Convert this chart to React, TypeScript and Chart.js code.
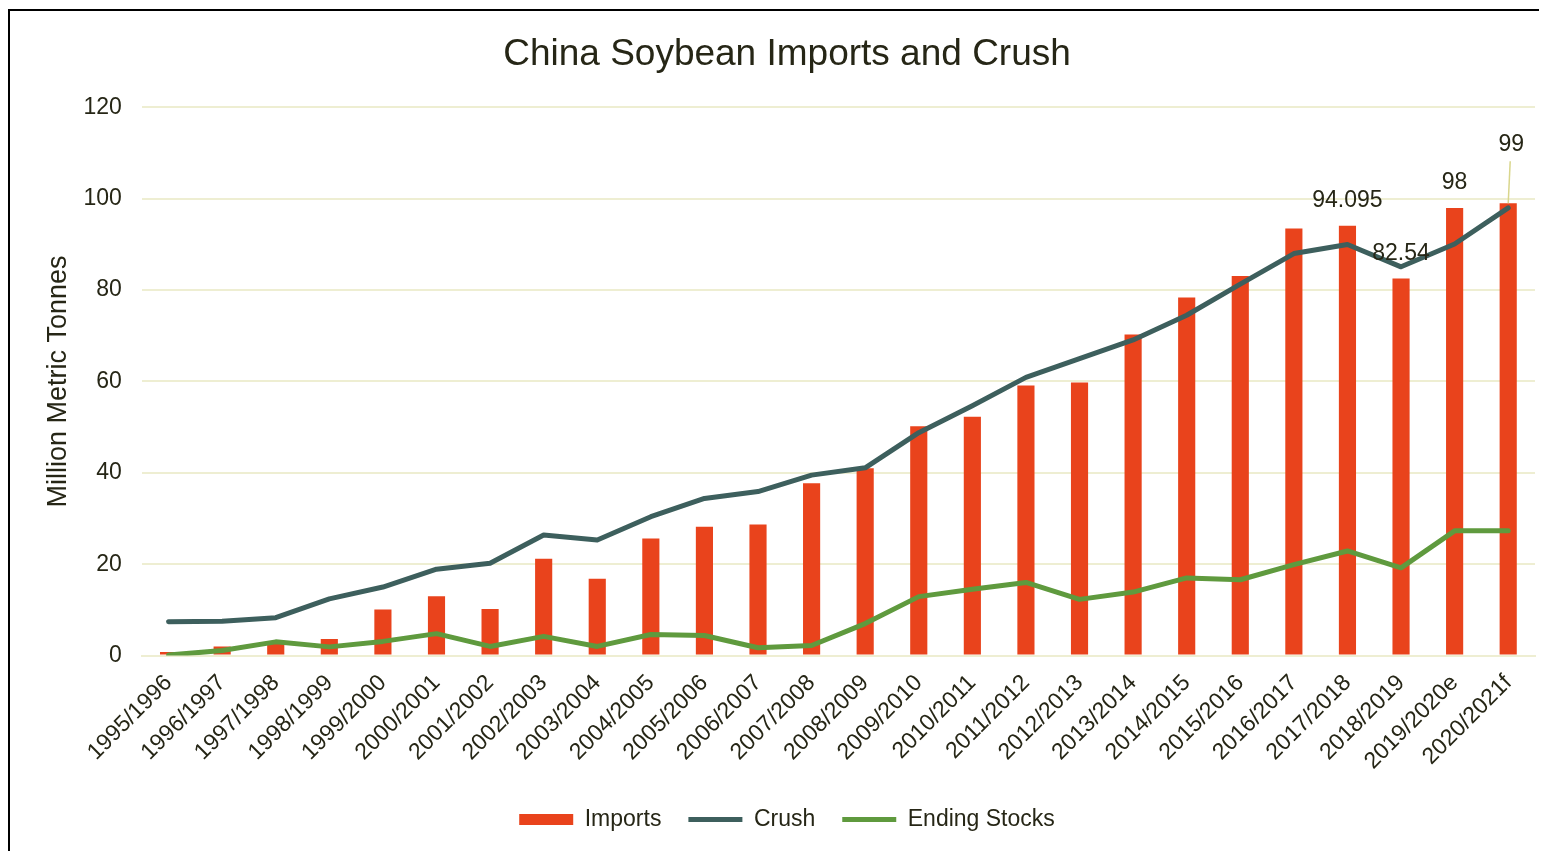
import { useEffect, useRef } from "react";
import { Chart, registerables } from "chart.js";

Chart.register(...registerables);

// Marketing years (July/June seasons); "e" = estimate, "f" = forecast
const seasons = [
  "1995/1996", "1996/1997", "1997/1998", "1998/1999", "1999/2000", "2000/2001",
  "2001/2002", "2002/2003", "2003/2004", "2004/2005", "2005/2006", "2006/2007",
  "2007/2008", "2008/2009", "2009/2010", "2010/2011", "2011/2012", "2012/2013",
  "2013/2014", "2014/2015", "2015/2016", "2016/2017", "2017/2018", "2018/2019",
  "2019/2020e", "2020/2021f",
];

// Million metric tonnes
const imports = [
  0.8, 2.0, 2.9, 3.6, 10.1, 13.0, 10.2, 21.2, 16.8, 25.6, 28.2, 28.7,
  37.7, 41.0, 50.2, 52.3, 59.1, 59.8, 70.3, 78.4, 83.1, 93.5, 94.095, 82.54,
  98, 99,
];

const crush = [
  7.4, 7.5, 8.3, 12.4, 15.0, 18.9, 20.2, 26.4, 25.3, 30.4, 34.4, 35.9,
  39.5, 41.1, 48.8, 54.7, 60.9, 65.0, 69.1, 74.5, 81.3, 88.0, 90.0, 85.1,
  90.1, 98.0,
];

const endingStocks = [
  0.1, 1.1, 3.0, 1.9, 3.1, 4.8, 2.0, 4.2, 2.0, 4.6, 4.4, 1.7,
  2.2, 7.0, 12.9, 14.5, 16.0, 12.3, 13.9, 17.0, 16.6, 19.9, 22.9, 19.2,
  27.3, 27.3,
];

// Seasons whose import volume is printed above the bar
const labelledSeasons = ["2017/2018", "2018/2019", "2019/2020e", "2020/2021f"];

const yAxisMin = 0;
const yAxisMax = 120;
const yAxisStep = 20;

const TEXT = "#262616";
const GRID = "#EEEED2";
const FONT = "'Liberation Sans', Arial, Helvetica, sans-serif";

// Prints import values above selected bars; the last one is lifted with a leader line
const barValueLabels = {
  id: "barValueLabels",
  afterDatasetsDraw(chart: any) {
    const meta = chart.getDatasetMeta(0);
    const ctx = chart.ctx;
    ctx.save();
    ctx.font = `23px ${FONT}`;
    ctx.fillStyle = TEXT;
    ctx.textAlign = "center";
    ctx.textBaseline = "middle";
    labelledSeasons.forEach((season) => {
      const i = seasons.indexOf(season);
      const bar = meta.data[i];
      if (!bar) return;
      const value = imports[i];
      const lifted = i === seasons.length - 1;
      if (lifted) {
        ctx.strokeStyle = "#D9D68C";
        ctx.lineWidth = 1.5;
        ctx.beginPath();
        ctx.moveTo(bar.x + 2, bar.y - 42);
        ctx.lineTo(bar.x, bar.y);
        ctx.stroke();
        ctx.fillText(String(value), bar.x + 3, bar.y - 59);
      } else {
        ctx.fillText(String(value), bar.x, bar.y - 25);
      }
    });
    ctx.restore();
  },
};

export default function App() {
  const canvasRef = useRef<HTMLCanvasElement | null>(null);

  useEffect(() => {
    if (!canvasRef.current) return;
    Chart.defaults.font.family = FONT;
    Chart.defaults.color = TEXT;

    const chart = new Chart(canvasRef.current, {
      type: "bar",
      data: {
        labels: seasons,
        datasets: [
          {
            type: "bar",
            label: "Imports",
            data: imports,
            backgroundColor: "#E9431C",
            borderWidth: 0,
            barPercentage: 0.32,
            categoryPercentage: 1,
            pointStyle: "rect",
            order: 3,
          },
          {
            type: "line",
            label: "Crush",
            data: crush,
            borderColor: "#3D5F5D",
            backgroundColor: "#3D5F5D",
            borderWidth: 5,
            pointRadius: 0,
            borderJoinStyle: "round",
            borderCapStyle: "round",
            pointStyle: "line",
            order: 2,
          },
          {
            type: "line",
            label: "Ending Stocks",
            data: endingStocks,
            borderColor: "#5F9A3E",
            backgroundColor: "#5F9A3E",
            borderWidth: 5,
            pointRadius: 0,
            borderJoinStyle: "round",
            borderCapStyle: "round",
            pointStyle: "line",
            order: 1,
          },
        ],
      },
      options: {
        responsive: false,
        animation: false,
        layout: { padding: { left: 17, right: 0, top: 0, bottom: 10 } },
        plugins: {
          title: {
            display: true,
            text: "China Soybean Imports and Crush",
            color: TEXT,
            font: { size: 37, weight: "normal", family: FONT },
            padding: { top: 22, bottom: 30 },
          },
          legend: {
            position: "bottom",
            labels: {
              usePointStyle: true,
              pointStyleWidth: 54,
              boxHeight: 11,
              color: TEXT,
              font: { size: 23, family: FONT },
              padding: 27,
              sort: (a: any, b: any) => a.datasetIndex - b.datasetIndex,
            },
          },
          tooltip: { enabled: false },
        },
        scales: {
          x: {
            grid: { display: false },
            border: { display: true, color: GRID, width: 2 },
            ticks: {
              color: TEXT,
              font: { size: 23, family: FONT },
              autoSkip: false,
              maxRotation: 45,
              minRotation: 45,
              padding: 6,
            },
          },
          y: {
            min: yAxisMin,
            max: yAxisMax,
            border: { display: false },
            grid: { color: GRID, lineWidth: 2, drawTicks: false },
            ticks: {
              stepSize: yAxisStep,
              color: TEXT,
              font: { size: 23, family: FONT },
              padding: 20,
            },
            title: {
              display: true,
              text: "Million Metric Tonnes",
              color: TEXT,
              font: { size: 27, family: FONT },
              padding: { top: 15, bottom: -11 },
            },
          },
          // empty right-hand strip so the plot stops short of the frame edge
          yRight: {
            position: "right",
            display: true,
            grid: { display: false, drawOnChartArea: false },
            border: { display: false },
            ticks: { display: false },
            afterFit: (scale: any) => {
              scale.width = 12;
            },
          },
        },
      },
      plugins: [barValueLabels],
    } as any);

    return () => chart.destroy();
  }, []);

  return (
    <div
      style={{
        borderTop: "2px solid #000",
        borderLeft: "2px solid #000",
        width: 1537,
        height: 840,
        marginTop: 1,
        background: "#fff",
      }}
    >
      <canvas ref={canvasRef} width={1537} height={840} style={{ display: "block" }} />
    </div>
  );
}
